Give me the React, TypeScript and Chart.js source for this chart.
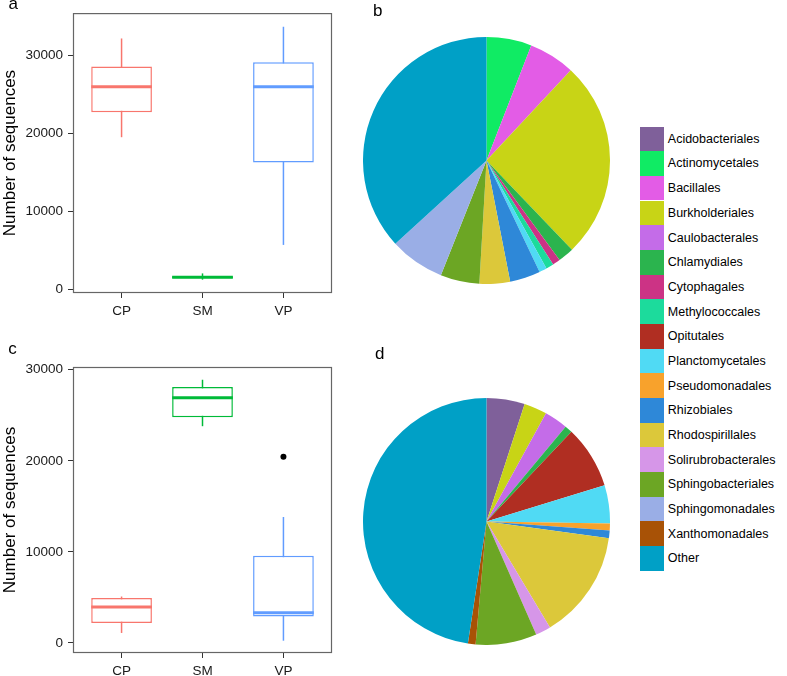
import React, { useEffect, useRef } from 'react';
import { Chart, registerables } from 'chart.js';
Chart.register(...registerables);

const FONT = '"Liberation Sans", Arial, Helvetica, sans-serif';

const categories = ['CP', 'SM', 'VP'];
const boxColors = ['#F8766D', '#00BA38', '#619CFF'];
const yTickValues = [0, 10000, 20000, 30000];
const yTitle = 'Number of sequences';

// panel a
const aLow = [19500, 1250, 5700];
const aQ1 = [22700, 1420, 16250];
const aMedian = [25950, 1560, 25950];
const aQ3 = [28550, 1680, 29100];
const aHigh = [32150, 2050, 33650];
const aOutliers: number[][] = [[], [], []];

// panel c
const cLow = [1100, 23800, 250];
const cQ1 = [2200, 24770, 2920];
const cMedian = [3950, 26930, 3330];
const cQ3 = [4940, 28100, 9580];
const cHigh = [5100, 28900, 13830];
const cOutliers: number[][] = [[], [], [20450]];

// pies
const orders = [
  'Acidobacteriales', 'Actinomycetales', 'Bacillales', 'Burkholderiales', 'Caulobacterales',
  'Chlamydiales', 'Cytophagales', 'Methylococcales', 'Opitutales', 'Planctomycetales',
  'Pseudomonadales', 'Rhizobiales', 'Rhodospirillales', 'Solirubrobacterales',
  'Sphingobacteriales', 'Sphingomonadales', 'Xanthomonadales', 'Other',
];
const orderColors = [
  '#7F609A', '#10EB64', '#E35CE6', '#C8D416', '#C46CE8',
  '#2BB44E', '#CC3385', '#1CDB9C', '#B02E22', '#50DAF4',
  '#F8A22C', '#2E88D8', '#DCC83A', '#D696E8',
  '#6CA624', '#9AAEE6', '#A85206', '#00A0C6',
];
const pieB = [0, 5.9, 6.05, 25.9, 0, 2.1, 1.0, 1.0, 0, 1.0, 0, 4.0, 4.0, 0, 5.1, 7.2, 0, 36.8];
const pieD = [5.0, 0, 0, 3.0, 3.07, 1.0, 0, 0, 8.2, 5.0, 0.9, 1.0, 14.25, 2.0, 8.0, 0, 1.0, 47.6];

type BoxProps = {
  low: number[]; q1: number[]; median: number[]; q3: number[]; high: number[]; outliers: number[][];
  yMin: number; yMax: number; left: number; top: number; width: number; height: number;
  padTop: number; padRight: number; axisW: number; axisH: number;
};

function BoxChart(p: BoxProps) {
  const ref = useRef<HTMLCanvasElement>(null);
  useEffect(() => {
    const boxPlugin = {
      id: 'boxParts',
      beforeDatasetsDraw(chart: any) {
        const ctx = chart.ctx; const xs = chart.scales.x; const ys = chart.scales.y;
        ctx.save();
        ctx.lineWidth = 1.5;
        categories.forEach((_, i) => {
          const x = xs.getPixelForValue(i + 1);
          ctx.strokeStyle = boxColors[i];
          ctx.beginPath();
          ctx.moveTo(x, ys.getPixelForValue(p.low[i]));
          ctx.lineTo(x, ys.getPixelForValue(p.high[i]));
          ctx.stroke();
        });
        ctx.restore();
      },
      afterDatasetsDraw(chart: any) {
        const ctx = chart.ctx; const xs = chart.scales.x; const ys = chart.scales.y;
        ctx.save();
        ctx.lineWidth = 3;
        categories.forEach((_, i) => {
          const y = ys.getPixelForValue(p.median[i]);
          ctx.strokeStyle = boxColors[i];
          ctx.beginPath();
          ctx.moveTo(xs.getPixelForValue(i + 1 - 0.375), y);
          ctx.lineTo(xs.getPixelForValue(i + 1 + 0.375), y);
          ctx.stroke();
        });
        const a = chart.chartArea;
        ctx.strokeStyle = '#666666';
        ctx.lineWidth = 1.2;
        ctx.strokeRect(a.left + 0.5, a.top + 0.5, a.right - a.left - 1, a.bottom - a.top - 1);
        ctx.restore();
      },
    };
    const outlierPts: any[] = [];
    p.outliers.forEach((arr, i) => arr.forEach((v) => outlierPts.push({ x: i + 1, y: v })));
    const chart = new Chart(ref.current!, {
      type: 'bar',
      data: {
        datasets: [
          {
            type: 'bar',
            data: categories.map((_, i) => ({ x: i + 1, y: [p.q1[i], p.q3[i]] })) as any,
            backgroundColor: '#FFFFFF',
            borderColor: boxColors,
            borderWidth: 1.5,
            borderSkipped: false,
            categoryPercentage: 1,
            barPercentage: 0.75,
          } as any,
          {
            type: 'scatter',
            data: outlierPts,
            backgroundColor: '#000000',
            borderWidth: 0,
            pointRadius: 3,
          } as any,
        ],
      },
      options: {
        responsive: false,
        animation: false,
        events: [],
        layout: { padding: { top: p.padTop, right: p.padRight, left: 0, bottom: 0 } },
        plugins: { legend: { display: false }, tooltip: { enabled: false } },
        scales: {
          x: {
            type: 'linear',
            min: 0.4,
            max: 3.6,
            offset: false,
            border: { display: false },
            grid: { offset: false, drawOnChartArea: false, drawTicks: true, tickLength: 5, color: '#333333' },
            afterBuildTicks: (s: any) => { s.ticks = categories.map((_, i) => ({ value: i + 1 })); },
            afterFit: (s: any) => { s.height = p.axisH; },
            ticks: {
              callback: (_v: any, idx: number) => categories[idx],
              font: { family: FONT, size: 13.5 },
              color: '#1A1A1A',
              padding: 5,
              maxRotation: 0,
              autoSkip: false,
            },
          },
          y: {
            type: 'linear',
            min: p.yMin,
            max: p.yMax,
            border: { display: false },
            grid: { drawOnChartArea: false, drawTicks: true, tickLength: 5, color: '#333333' },
            afterBuildTicks: (s: any) => { s.ticks = yTickValues.map((v) => ({ value: v })); },
            afterFit: (s: any) => { s.width = p.axisW; },
            ticks: {
              callback: (v: any) => String(v),
              font: { family: FONT, size: 13.5 },
              color: '#1A1A1A',
              padding: 5,
            },
            title: {
              display: true,
              text: yTitle,
              font: { family: FONT, size: 17 },
              color: '#000000',
              padding: 0,
            },
          },
        },
      } as any,
      plugins: [boxPlugin],
    });
    return () => chart.destroy();
  }, []);
  return (
    <canvas ref={ref} width={p.width} height={p.height}
      style={{ position: 'absolute', left: p.left, top: p.top, width: p.width, height: p.height }} />
  );
}

function PieChart({ values, left, top, size }: { values: number[]; left: number; top: number; size: number }) {
  const ref = useRef<HTMLCanvasElement>(null);
  useEffect(() => {
    const chart = new Chart(ref.current!, {
      type: 'pie',
      data: {
        labels: orders,
        datasets: [{ data: values, backgroundColor: orderColors, borderWidth: 0 }],
      },
      options: {
        responsive: false,
        animation: false,
        events: [],
        layout: { padding: 0 },
        plugins: { legend: { display: false }, tooltip: { enabled: false } },
      } as any,
    });
    return () => chart.destroy();
  }, []);
  return (
    <canvas ref={ref} width={size} height={size}
      style={{ position: 'absolute', left, top, width: size, height: size }} />
  );
}

const panelLetter = (t: string, left: number, baseline: number) => (
  <div key={t} style={{ position: 'absolute', left, top: baseline - 14.4, fontFamily: FONT, fontSize: 17, lineHeight: '17px', color: '#000' }}>{t}</div>
);

export default function App() {
  return (
    <div style={{ position: 'absolute', left: 0, top: 0, width: 787, height: 676, background: '#FFFFFF', overflow: 'hidden' }}>
      <BoxChart low={aLow} q1={aQ1} median={aMedian} q3={aQ3} high={aHigh} outliers={aOutliers}
        yMin={-460} yMax={35400} left={0} top={0} width={345} height={320}
        padTop={5} padRight={13} axisW={73} axisH={27} />
      <BoxChart low={cLow} q1={cQ1} median={cMedian} q3={cQ3} high={cHigh} outliers={cOutliers}
        yMin={-1100} yMax={30300} left={0} top={340} width={345} height={336}
        padTop={27} padRight={13} axisW={73} axisH={23} />
      <PieChart values={pieB} left={363} top={37} size={247} />
      <PieChart values={pieD} left={363} top={398} size={247} />
      {panelLetter('a', 8.5, 9.5)}
      {panelLetter('b', 373, 16.5)}
      {panelLetter('c', 8.3, 354)}
      {panelLetter('d', 375, 359)}
      {orders.map((name, i) => (
        <div key={name} style={{ position: 'absolute', left: 640, top: 126.5 + i * 24.67, height: 24.67, display: 'flex', alignItems: 'center' }}>
          <div style={{ width: 24.3, height: 24.67, background: orderColors[i] }} />
          <span style={{ marginLeft: 3.5, fontFamily: FONT, fontSize: 12.5, color: '#000', whiteSpace: 'nowrap' }}>{name}</span>
        </div>
      ))}
    </div>
  );
}
